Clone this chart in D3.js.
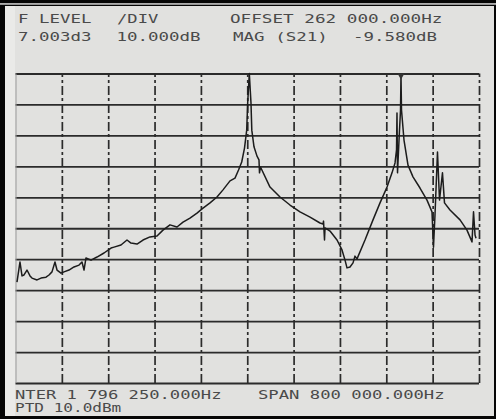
<!DOCTYPE html>
<html>
<head>
<meta charset="utf-8">
<script src="https://cdn.jsdelivr.net/npm/d3@7"></script>
<style>
  html, body { margin: 0; padding: 0; background: #000; }
  svg { display: block; }
</style>
</head>
<body>
<div id="chart"></div>
<script>
// sweep: centre 1 796 250 Hz, span 800 000 Hz, 10 dB / div
const freqKHz = [
  1398.8, 1404.0, 1407.5, 1410.9, 1416.1, 1421.3, 1424.7, 1433.4, 1440.3, 1448.9,
  1454.1, 1459.2, 1464.4, 1467.9, 1474.8, 1480.0, 1488.6, 1497.2, 1505.9, 1511.0,
  1514.5, 1517.9, 1526.6, 1536.9, 1549.0, 1561.1, 1566.3, 1578.3, 1588.7, 1595.6,
  1606.0, 1616.3, 1628.4, 1640.5, 1650.8, 1662.9, 1675.0, 1685.4, 1697.4, 1709.5,
  1719.9, 1732.0, 1744.0, 1754.4, 1766.5, 1775.1, 1781.2, 1786.7, 1791.5, 1795.3,
  1797.0, 1799.8, 1802.7, 1804.1, 1807.9, 1813.1, 1816.5, 1817.4, 1819.1, 1835.5,
  1852.8, 1870.0, 1887.3, 1904.6, 1921.8, 1927.0, 1927.9, 1929.6, 1930.5, 1939.1,
  1951.2, 1959.8, 1965.0, 1968.4, 1973.6, 1978.8, 1982.2, 1985.7, 1999.5, 2013.3,
  2025.4, 2037.5, 2046.1, 2051.3, 2053.9, 2054.7, 2055.6, 2058.2, 2060.8, 2061.6,
  2062.5, 2066.8, 2073.7, 2082.3, 2094.4, 2106.5, 2115.1, 2117.7, 2120.3, 2124.6,
  2128.1, 2133.2, 2136.7, 2146.2, 2163.5, 2175.5, 2184.2, 2186.8, 2189.4, 2191.1
];
const magDB = [
  -67.4, -60.9, -65.4, -65.1, -63.5, -65.4, -66.1, -66.7, -66.1, -65.8,
  -65.1, -64.1, -60.9, -63.5, -64.5, -64.1, -63.5, -62.5, -61.9, -60.9,
  -63.5, -59.6, -60.3, -59.3, -58.0, -56.4, -56.1, -55.4, -53.8, -54.8,
  -55.1, -53.8, -52.8, -52.5, -50.6, -48.9, -49.6, -48.0, -46.7, -45.1,
  -43.5, -41.8, -39.9, -37.6, -34.7, -33.8, -31.2, -28.6, -24.1, -18.3,
  -9.5, 0.0, -9.5, -18.3, -23.7, -26.7, -27.9, -32.1, -30.2, -36.7,
  -39.9, -42.5, -44.7, -46.4, -48.3, -48.6, -47.7, -53.8, -49.9, -50.9,
  -53.8, -57.0, -60.3, -62.8, -62.5, -61.2, -59.0, -59.9, -53.8, -47.3,
  -41.8, -36.7, -32.1, -28.9, -24.7, -12.8, -32.1, -21.5, -11.8, -0.5,
  -11.8, -21.5, -29.6, -33.4, -37.0, -40.9, -44.7, -56.1, -45.7, -25.4,
  -40.9, -32.1, -41.8, -44.1, -47.3, -50.6, -54.4, -44.7, -52.2, -53.2
];
const xTicks = d3.range(0, 11).map((i) => 1396.25 + i * 80);
const yTicks = d3.range(-100, 1, 10);
const markerKHz = 2061.6;
const headerText = [
  'F LEVEL', '/DIV', 'OFFSET 262 000.000Hz',
  '7.003d3', '10.000dB', 'MAG (S21)', '-9.580dB'
];
const footerText = ['NTER 1 796 250.000Hz', 'SPAN 800 000.000Hz', 'PTD 10.0dBm'];

const width = 496;
const height = 419;
const plot = { left: 15.5, right: 479, top: 73.5, bottom: 383 };
const ink = '#2b2b2b';
const textInk = '#4a4a4a';

const svg = d3
  .select('#chart')
  .append('svg')
  .attr('width', width)
  .attr('height', height);

// photo frame + paper
svg.append('rect').attr('width', width).attr('height', height).attr('fill', '#050505');
svg.append('rect').attr('x', 0).attr('y', 3.3).attr('width', width).attr('height', 1.3).attr('fill', '#f4f4f4');
svg.append('rect')
  .attr('x', 5).attr('y', 6)
  .attr('width', 489).attr('height', 410)
  .attr('fill', '#e1e1df');
svg.append('rect')
  .attr('x', 5).attr('y', 6)
  .attr('width', 10).attr('height', 410)
  .attr('fill', '#eaeae8');

const xScale = d3.scaleLinear().domain([1396.25, 2196.25]).range([plot.left, plot.right]);
const yScale = d3.scaleLinear().domain([-100, 0]).range([plot.bottom, plot.top]);

// horizontal grid
const hGrid = svg
  .append('g')
  .attr('transform', `translate(${plot.left},0)`)
  .call(
    d3.axisLeft(yScale)
      .tickValues(yTicks)
      .tickSize(-(plot.right - plot.left))
      .tickFormat('')
  );
hGrid.select('.domain').remove();
hGrid.selectAll('line').attr('stroke', ink).attr('stroke-width', 1.8);

// vertical grid
const vGrid = svg
  .append('g')
  .attr('transform', `translate(0,${plot.bottom})`)
  .call(
    d3.axisBottom(xScale)
      .tickValues(xTicks)
      .tickSize(-(plot.bottom - plot.top))
      .tickFormat('')
  );
vGrid.select('.domain').remove();
vGrid
  .selectAll('line')
  .attr('stroke', (d, i) => (i === 0 ? '#9a9a9a' : ink))
  .attr('stroke-width', (d, i) => (i === 0 ? 1 : 1.7))
  .attr('stroke-dasharray', (d, i) => (i === 0 ? 'none' : '9,3,3,3'));

// trace
const points = freqKHz.map((f, i) => [f, magDB[i]]);
const line = d3
  .line()
  .x((d) => xScale(d[0]))
  .y((d) => yScale(d[1]));

svg
  .append('path')
  .datum(points)
  .attr('d', line)
  .attr('fill', 'none')
  .attr('stroke', '#1c1c1c')
  .attr('stroke-width', 1.5)
  .attr('stroke-linejoin', 'round');

// marker triangle on the right resonance
const mx = xScale(markerKHz);
const my = yScale(0);
svg
  .append('path')
  .attr('d', `M${mx - 3.5},${my} L${mx + 3.5},${my} L${mx},${my + 6} Z`)
  .attr('fill', '#333');

// annotation text
const font = "'DejaVu Sans Mono', monospace";
const headerPos = [
  [18, 22.5], [117, 22.5], [230, 22.5],
  [18, 40.5], [116.5, 40.5], [233, 40.5], [353, 40.5]
];
svg
  .selectAll('.hdr')
  .data(headerText)
  .join('text')
  .attr('class', 'hdr')
  .attr('x', (d, i) => headerPos[i][0])
  .attr('y', (d, i) => headerPos[i][1])
  .attr('textLength', (d) => d.length * 10.7 - 1.5)
  .attr('lengthAdjust', 'spacingAndGlyphs')
  .style('font-family', font)
  .style('font-size', '12.8px')
  .attr('fill', textInk)
  .text((d) => d);

const footerPos = [[15, 398.5], [258, 398.5], [15, 411.5]];
const footerPitch = [10.4, 10.45, 9.8];
svg
  .selectAll('.ftr')
  .data(footerText)
  .join('text')
  .attr('class', 'ftr')
  .attr('x', (d, i) => footerPos[i][0])
  .attr('y', (d, i) => footerPos[i][1])
  .attr('textLength', (d, i) => d.length * footerPitch[i] - 1.5)
  .attr('lengthAdjust', 'spacingAndGlyphs')
  .style('font-family', font)
  .style('font-size', '11.5px')
  .attr('fill', textInk)
  .text((d) => d);
</script>
</body>
</html>
